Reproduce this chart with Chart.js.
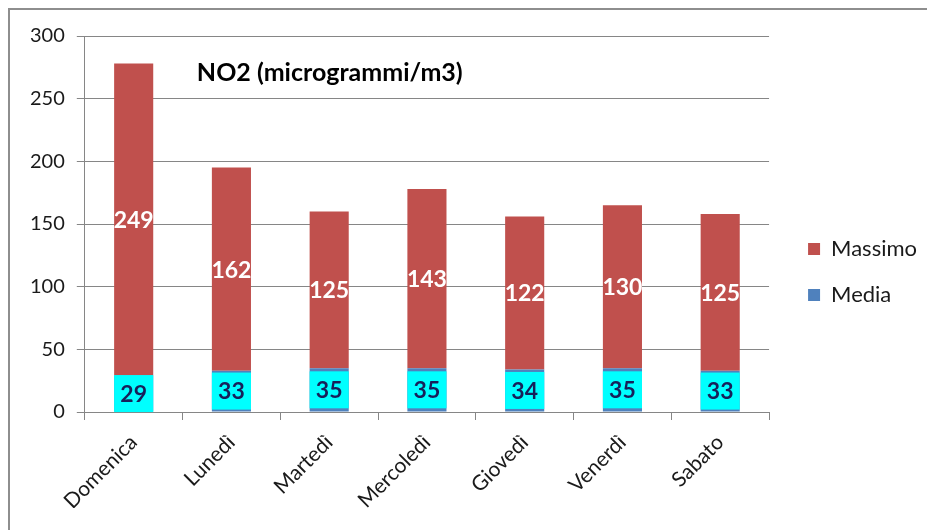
<!DOCTYPE html>
<html>
<head>
<meta charset="utf-8">
<script src="https://cdn.jsdelivr.net/npm/chart.js@4.4.0/dist/chart.umd.min.js"></script>
<style>
    body { margin: 0; background: #fff; overflow: hidden; }
    #wrap { position: relative; width: 927px; height: 530px; }
    #frame {
        position: absolute; left: 8px; top: 8px; width: 1000px; height: 1000px;
        border: 2px solid #8e8e8e; pointer-events: none;
    }
</style>
</head>
<body>
<div id="wrap">
    <canvas id="no2Chart"></canvas>
    <div id="frame"></div>
</div>
<script>
// dati NO2
const giorni = ['Domenica', 'Lunedì', 'Martedì', 'Mercoledì', 'Giovedì', 'Venerdì', 'Sabato'];
const media = [29, 33, 35, 35, 34, 35, 33];
const massimo = [249, 162, 125, 143, 122, 130, 125];
const yTicks = [0, 50, 100, 150, 200, 250, 300];
const titolo = 'NO2 (microgrammi/m3)';

const FONT = 'Lato, "Open Sans", sans-serif';
const GRIGIO = '#868686';

// etichette dei valori dentro le barre
const etichette = {
    id: 'etichette',
    afterDatasetsDraw(chart) {
        const ctx = chart.ctx;
        ctx.save();
        ctx.font = 'bold 23px ' + FONT;
        ctx.textAlign = 'center';
        ctx.textBaseline = 'middle';
        chart.data.datasets.forEach((ds, di) => {
            const meta = chart.getDatasetMeta(di);
            meta.data.forEach((bar, i) => {
                const p = bar.getProps(['x', 'y', 'base', 'width'], true);
                const cy = (p.y + p.base) / 2;
                if (di === 0) {
                    ctx.fillStyle = '#00ffff';
                    ctx.fillRect(p.x - p.width / 2, cy - 18.5, p.width, 37);
                    ctx.fillStyle = '#17205a';
                } else {
                    ctx.fillStyle = '#ffffff';
                }
                ctx.fillText(String(ds.data[i]), p.x, cy + 1);
            });
        });
        ctx.restore();
    }
};

// titolo sovrapposto all'area del grafico
const titoloInterno = {
    id: 'titoloInterno',
    afterDraw(chart) {
        const a = chart.chartArea;
        const ctx = chart.ctx;
        ctx.save();
        ctx.font = 'bold 25px ' + FONT;
        ctx.fillStyle = '#000';
        ctx.textAlign = 'center';
        ctx.textBaseline = 'middle';
        ctx.fillText(titolo, a.left + 245, a.top + 37);
        ctx.restore();
    }
};

const canvas = document.getElementById('no2Chart');
new Chart(canvas, {
    type: 'bar',
    data: {
        labels: giorni,
        datasets: [
            { label: 'Media', data: media, backgroundColor: '#4f81bd', barPercentage: 0.4, categoryPercentage: 1 },
            { label: 'Massimo', data: massimo, backgroundColor: '#c0504d', barPercentage: 0.4, categoryPercentage: 1 }
        ]
    },
    options: {
        responsive: true,
        maintainAspectRatio: false,
        animation: false,
        layout: { padding: { left: 18, top: 36, right: 0, bottom: 22 } },
        plugins: {
            legend: {
                position: 'right',
                reverse: true,
                labels: {
                    boxWidth: 12,
                    boxHeight: 12,
                    padding: 24,
                    color: '#1a1a1a',
                    font: { family: FONT, size: 22 }
                }
            },
            tooltip: { enabled: false }
        },
        scales: {
            x: {
                stacked: true,
                grid: { offset: true, drawOnChartArea: false, color: GRIGIO, tickLength: 8 },
                border: { color: GRIGIO, width: 1 },
                ticks: {
                    minRotation: 45, maxRotation: 45, padding: 10,
                    color: '#1a1a1a', font: { family: FONT, size: 21 }
                },
                afterFit(scale) { scale.height = 96; }
            },
            y: {
                stacked: true,
                min: yTicks[0],
                max: yTicks[yTicks.length - 1],
                afterBuildTicks(scale) { scale.ticks = yTicks.map(v => ({ value: v })); },
                grid: { color: GRIGIO, tickLength: 8 },
                border: { color: GRIGIO, width: 1 },
                ticks: { padding: 12, color: '#1a1a1a', font: { family: FONT, size: 20 } }
            },
            // spazio vuoto tra grafico e legenda
            spazio: {
                position: 'right',
                grid: { display: false },
                border: { display: false },
                ticks: { display: false },
                afterFit(scale) { scale.width = 15; }
            }
        }
    },
    plugins: [etichette, titoloInterno]
});
</script>
</body>
</html>
